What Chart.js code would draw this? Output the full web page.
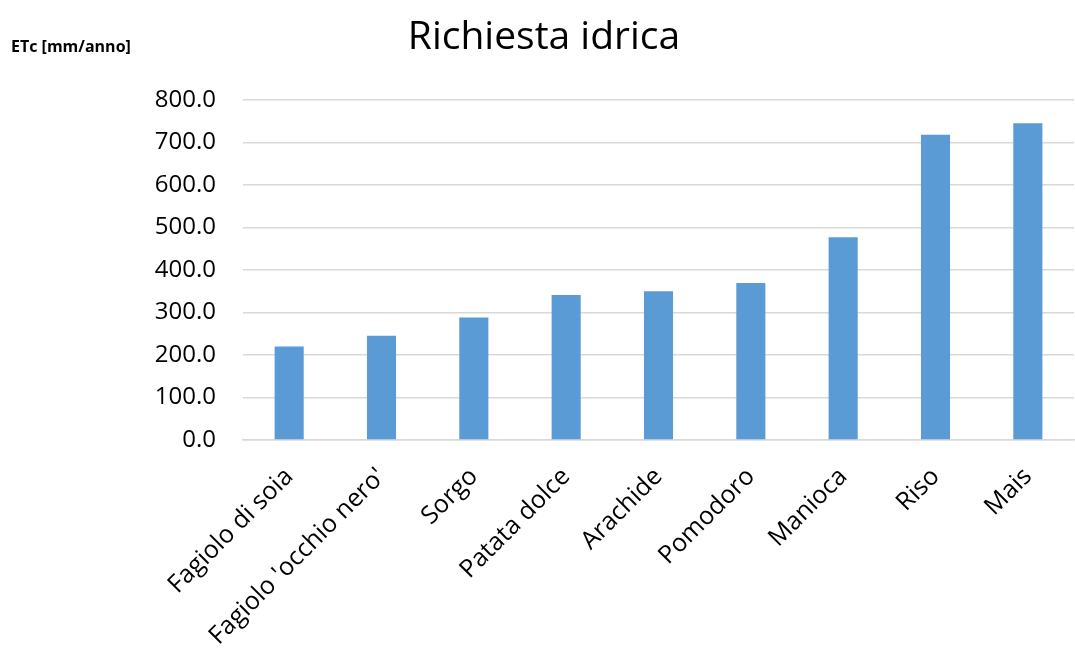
<!DOCTYPE html>
<html>
<head>
<meta charset="utf-8">
<script src="https://cdn.jsdelivr.net/npm/chart.js@4"></script>
<style>
html,body{margin:0;padding:0;background:#fff;}
#wrap{width:1075px;height:648px;position:relative;}
</style>
</head>
<body>
<div id="wrap"><canvas id="c" width="1075" height="648"></canvas></div>
<script>
const categories = ["Fagiolo di soia", "Fagiolo 'occhio nero'", "Sorgo", "Patata dolce", "Arachide", "Pomodoro", "Manioca", "Riso", "Mais"];
const etcValues = [220, 245, 288, 341, 350, 369, 477, 718, 745];
const chartTitle = "Richiesta idrica";
const yAxisLabel = "ETc [mm/anno]";

const cornerLabel = {
  id: 'cornerLabel',
  afterDraw(chart) {
    const ctx = chart.ctx;
    ctx.save();
    ctx.font = "bold 16px 'Open Sans', sans-serif";
    ctx.fillStyle = '#000';
    ctx.textAlign = 'left';
    ctx.textBaseline = 'middle';
    ctx.fillText(yAxisLabel, 11, 47);
    ctx.restore();
  }
};

new Chart(document.getElementById('c'), {
  type: 'bar',
  data: {
    labels: categories,
    datasets: [{
      data: etcValues,
      backgroundColor: '#5B9BD5',
      barPercentage: 0.315,
      categoryPercentage: 1.0
    }]
  },
  options: {
    responsive: false,
    animation: false,
    layout: { padding: { left: 14, right: 1, top: 0, bottom: 0 } },
    plugins: {
      legend: { display: false },
      tooltip: { enabled: false },
      title: {
        display: true,
        text: chartTitle,
        color: '#000',
        font: { family: "'Open Sans', sans-serif", size: 39, weight: 'normal' },
        padding: { top: 14, bottom: 39 }
      }
    },
    scales: {
      x: {
        afterFit(scale) { scale.height = 208; },
        grid: { display: false, drawTicks: false },
        border: { display: true, color: '#d9d9d9', width: 1.5 },
        ticks: {
          color: '#000',
          font: { family: "'Open Sans', sans-serif", size: 25 },
          maxRotation: 45, minRotation: 45,
          padding: 22,
          autoSkip: false
        }
      },
      y: {
        min: 0, max: 800,
        afterFit(scale) { scale.width = 229; },
        grid: { color: '#d9d9d9', lineWidth: 1.5, drawTicks: false },
        border: { display: false },
        ticks: {
          stepSize: 100,
          color: '#000',
          font: { family: "'Open Sans', sans-serif", size: 24 },
          padding: 27,
          callback: v => Number(v).toFixed(1)
        }
      }
    }
  },
  plugins: [cornerLabel]
});
</script>
</body>
</html>
